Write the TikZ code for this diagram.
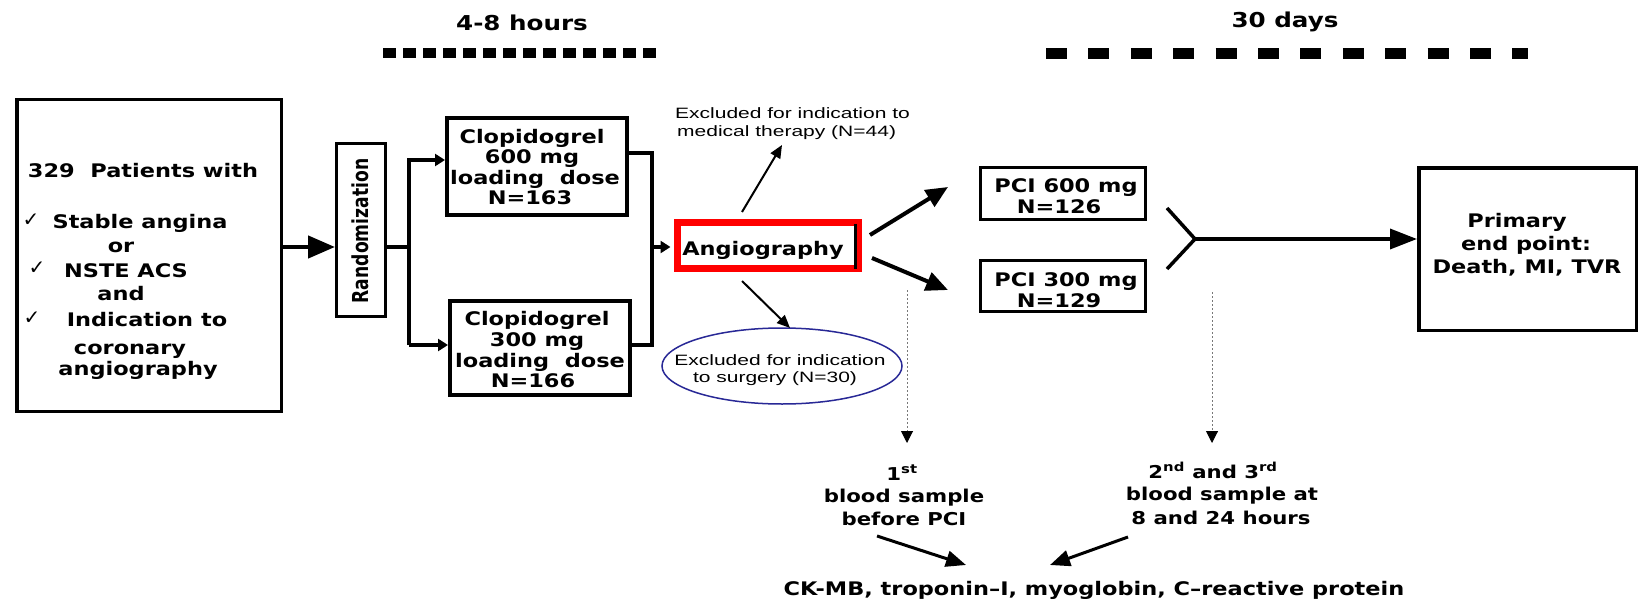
\documentclass[tikz,border=0pt]{standalone}
\usepackage{fontspec}
\usetikzlibrary{arrows.meta,shapes.geometric}
\setmainfont{DejaVu Sans}
\newfontfamily\bfam{DejaVu Sans Bold}[FakeStretch=1.2]
\newfontfamily\rfam{DejaVu Sans Bold}[FakeStretch=0.78]
\newfontfamily\thinf{Liberation Sans}[FakeStretch=1.4]
\newfontfamily\chkf{DejaVu Sans}
\definecolor{navyc}{RGB}{40,40,150}
\definecolor{dotgray}{RGB}{120,120,120}
\tikzset{
  bt/.style={font=\bfam\fontsize{18.7}{20}\selectfont, inner sep=0pt, anchor=base},
  sbt/.style={font=\bfam\fontsize{17.7}{20}\selectfont, inner sep=0pt, anchor=base},
  toplbl/.style={font=\bfam\fontsize{20.5}{22}\selectfont, inner sep=0pt, anchor=base},
  thintxt/.style={font=\thinf\fontsize{15}{17}\selectfont, inner sep=0pt, anchor=base west},
  chk/.style={font=\chkf\fontsize{20}{22}\selectfont, inner sep=0pt, anchor=base},
  boxa/.style={draw, line width=3.5pt, inner sep=0pt},
  boxb/.style={draw, line width=3pt, inner sep=0pt},
  conn/.style={line width=3.5pt, line join=miter},
  connarr/.style={line width=3.5pt, line join=miter, -{Triangle[length=10pt,width=12pt]}},
  bigarr/.style={line width=4.5pt, -{Triangle[length=27pt,width=22pt]}},
  fatarr/.style={line width=4pt, -{Triangle[length=22pt,width=19pt]}},
  thinarr/.style={line width=2pt, -{Triangle[length=13pt,width=11pt]}},
  botarr/.style={line width=3pt, -{Triangle[length=20pt,width=16pt]}},
  dotarr/.style={draw=dotgray, line width=1pt, dash pattern=on 2pt off 2pt, -{Triangle[length=12pt,width=12pt,color=black]}},
}
\begin{document}
\begin{tikzpicture}[x=1pt,y=-1pt]
\useasboundingbox[fill=white] (0,0) rectangle (1641,599);

% time labels
\node[toplbl] (tA) at (522,31) {4-8 hours};
\node[toplbl] (tB) at (1285,28) {30 days};
\coordinate (dA1) at (383,53);
\coordinate (dA2) at (660,53);
\coordinate (dB1) at (1046,54);
\coordinate (dB2) at (1528,54);
\draw[line width=10pt, dash pattern=on 13pt off 7pt] (dA1) -- (dA2);
\draw[line width=11pt, dash pattern=on 21pt off 21.4pt] (dB1) -- (dB2);

% main box
\node[boxa, minimum width=264.5pt, minimum height=311.5pt] (main) at (149,255.5) {};
\node[bt] (m1) at (143,177) {329\ \ Patients with};
\node[chk] (k1) at (31,226) {✓};
\node[bt] (m2) at (140,228) {Stable angina};
\node[bt] (m3) at (121,252) {or};
\node[chk] (k2) at (37,274) {✓};
\node[bt] (m4) at (126,277) {NSTE ACS};
\node[bt] (m5) at (121,300) {and};
\node[chk] (k3) at (32,324) {✓};
\node[bt] (m6) at (147,326) {Indication to};
\node[bt] (m7) at (130,354) {coronary};
\node[bt] (m8) at (138,375) {angiography};

% randomization
\node[boxb, minimum width=49pt, minimum height=173pt] (rand) at (361,230) {};
\node[font=\rfam\fontsize{22}{24}\selectfont, inner sep=0pt, anchor=base, rotate=90] (randt) at (368,231) {Randomization};

\coordinate (ym) at (0,247);
\draw[bigarr] (main.east |- ym) -- (rand.west |- ym);

% branches
\coordinate (br) at (409,247);
\coordinate (brT) at (409,160);
\coordinate (brB) at (409,345);
\node[boxa, line width=4pt, minimum width=180pt, minimum height=97pt] (c600) at (537,166.5) {};
\node[boxa, line width=4pt, minimum width=180pt, minimum height=94pt] (c300) at (540,348) {};
\draw[conn] (rand.east |- br) -- (br);
\draw[connarr] (brB) -- (brT) -- (c600.west |- brT);
\draw[connarr] (brB) -- (c300.west |- brB);

\node[bt] (a1) at (532,143) {Clopidogrel};
\node[bt] (a2) at (532,163.5) {600 mg};
\node[bt] (a3) at (535,184) {loading\ \ dose};
\node[bt] (a4) at (530,204.5) {N=163};
\node[bt] (b1) at (537,325) {Clopidogrel};
\node[bt] (b2) at (537,346) {300 mg};
\node[bt] (b3) at (540,367) {loading\ \ dose};
\node[bt] (b4) at (533,387) {N=166};

% angiography
\node[draw=red, line width=7pt, minimum width=181pt, minimum height=46pt, inner sep=0pt] (angio) at (768,245.5) {};
\draw[line width=2.5pt] ([xshift=-6.5pt,yshift=-4.5pt]angio.north east) -- ([xshift=-6.5pt,yshift=3.5pt]angio.south east);
\node[bt] (angt) at (763,255) {Angiography};

\coordinate (jT) at (652,153);
\coordinate (jB) at (652,345);
\coordinate (jM) at (652,247);
\draw[conn] (c600.east |- jT) -- (jT) -- (jB) -- (c300.east |- jB);
\draw[connarr, shorten >=3.5pt] (jM) -- (angio.west |- jM);

% excluded
\node[thintxt] (e1) at (675,119) {Excluded for indication to};
\node[thintxt] (e2) at (677,137) {medical therapy (N=44)};
\coordinate (eu1) at (742,212);
\coordinate (eu2) at (782,145);
\draw[thinarr] (eu1) -- (eu2);

\node[ellipse, draw=navyc, line width=1.5pt, minimum width=240pt, minimum height=76pt, inner sep=0pt] (surg) at (782,366) {};
\node[thintxt, anchor=base] (s1) at (780,365) {Excluded for indication};
\node[thintxt, anchor=base] (s2) at (775,382) {to surgery (N=30)};
\coordinate (ed1) at (742,281);
\coordinate (ed2) at (790,328);
\draw[thinarr] (ed1) -- (ed2);

% PCI
\coordinate (pa1) at (870,235);
\coordinate (pa2) at (948,187);
\coordinate (pb1) at (872,258);
\coordinate (pb2) at (948,290);
\draw[fatarr] (pa1) -- (pa2);
\draw[fatarr] (pb1) -- (pb2);
\node[boxb, minimum width=165pt, minimum height=52pt] (p600) at (1063,193.5) {};
\node[boxb, minimum width=165pt, minimum height=51pt] (p300) at (1063,286) {};
\node[bt] (p1) at (1066,193) {PCI 600 mg};
\node[bt] (p2) at (1059,213) {N=126};
\node[bt] (p3) at (1066,286) {PCI 300 mg};
\node[bt] (p4) at (1059,307) {N=129};

% merge
\coordinate (yT) at (1167,208);
\coordinate (yM) at (1195,239);
\coordinate (yB) at (1167,269);
\node[boxa, minimum width=217.5pt, minimum height=162.5pt] (prim) at (1527.5,249) {};
\draw[conn] (yT) -- (yM) -- (yB);
\draw[line width=3.5pt, -{Triangle[length=27pt,width=20pt]}] (yM) -- (prim.west |- yM);
\node[bt] (r1) at (1517,227) {Primary};
\node[bt] (r2) at (1526,250) {end point:};
\node[bt] (r3) at (1527,273) {Death, MI, TVR};

% blood samples
\coordinate (dl1) at (907,290);
\coordinate (dl2) at (907,443);
\coordinate (dr1) at (1212,292);
\coordinate (dr2) at (1212,443);
\draw[dotarr] (dl1) -- (dl2);
\draw[dotarr] (dr1) -- (dr2);
\node[sbt] (q1) at (902,480) {1\textsuperscript{st}};
\node[sbt] (q2) at (904,502) {blood sample};
\node[sbt] (q3) at (904,525) {before PCI};
\node[sbt] (w1) at (1213,478) {2\textsuperscript{nd} and 3\textsuperscript{rd}};
\node[sbt] (w2) at (1222,500) {blood sample at};
\node[sbt] (w3) at (1221,524) {8 and 24 hours};

\coordinate (bl1) at (877,536);
\coordinate (bl2) at (966,565);
\coordinate (bR1) at (1128,537);
\coordinate (bR2) at (1050,565);
\draw[botarr] (bl1) -- (bl2);
\draw[botarr] (bR1) -- (bR2);
\node[font=\bfam\fontsize{18.7}{20}\selectfont, inner sep=0pt, anchor=base] (fin) at (1094,595) {CK-MB, troponin–I, myoglobin, C–reactive protein};
\end{tikzpicture}
\end{document}
